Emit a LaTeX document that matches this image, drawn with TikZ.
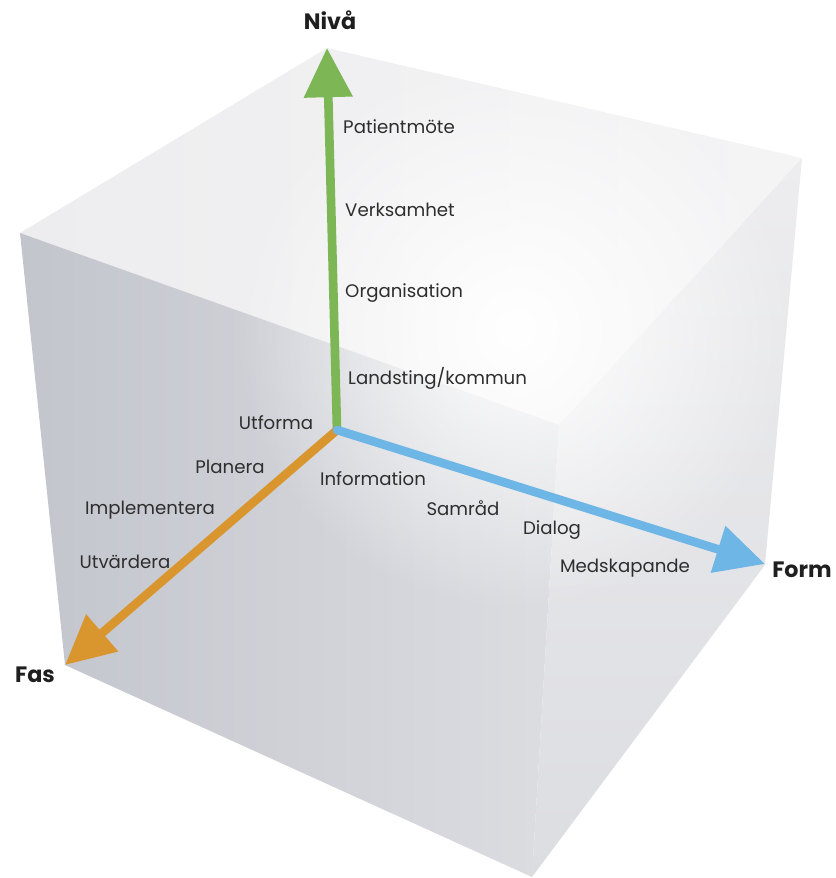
\documentclass[tikz,border=0pt]{standalone}
\usepackage{fontspec}
\setmainfont{Poppins}
\usetikzlibrary{arrows.meta, fadings}
\definecolor{nivagreen}{HTML}{7CB655}
\definecolor{formblue}{HTML}{6DB6E6}
\definecolor{fasorange}{HTML}{D9962E}
\definecolor{cubedark}{HTML}{C3C5CD}
\definecolor{cubemid}{HTML}{DCDDE1}
\definecolor{cubelight}{HTML}{EDEDEF}
\tikzfading[name=glow, inner color=transparent!0, outer color=transparent!100]
\tikzset{
  axis/.style={
    line width=7.4pt,
    line cap=round,
    -{Triangle[length=42pt, width=40pt]}
  },
  tick/.style={font=\fontsize{15.5}{18}\selectfont, text=black!82, inner sep=0pt},
  title/.style={font=\fontsize{19}{24}\selectfont\bfseries, text=black!88, inner sep=0pt}
}
\begin{document}
\begin{tikzpicture}[x=0.03cm, y=-0.03cm]
\useasboundingbox (0,0) rectangle (835,878);
% cube corners
\coordinate (T) at (327,48);
\coordinate (L) at (20,233);
\coordinate (R) at (802,158);
\coordinate (C) at (559,425);
\coordinate (BL) at (65,665);
\coordinate (BR) at (765,565);
\coordinate (B) at (532,877);

% faces
\shade[left color=cubelight, right color=cubelight!60!white] (T) -- (R) -- (C) -- (L) -- cycle;
\shade[left color=cubedark, right color=cubemid] (L) -- (C) -- (B) -- (BL) -- cycle;
\shade[top color=cubelight, bottom color=cubemid] (C) -- (R) -- (BR) -- (B) -- cycle;
\begin{scope}
  \clip (T) -- (R) -- (BR) -- (B) -- (BL) -- (L) -- cycle;
  \fill[white, path fading=glow] (515,330) circle (280);
\end{scope}

% axes
\newcommand\XOrig{337}
\newcommand\YOrig{430}
\coordinate (O) at (\XOrig,\YOrig);
\coordinate (tipN) at (327,48);
\coordinate (tipF) at (765,564);
\coordinate (tipS) at (65,665);

\draw[axis, nivagreen] (O) -- (tipN);
\draw[axis, fasorange] (O) -- (tipS);
\draw[axis, formblue] (O) -- (tipF);

\node[title] (niva) at (330,20) {Nivå};
\node[title, anchor=east] (form) at (832,570) {Form};
\node[title] (fas) at (35,675) {Fas};

% niva levels
\node[tick, anchor=west] (N1) at (343,127) {Patientmöte};
\node[tick, anchor=west] (N2) at (345,210) {Verksamhet};
\node[tick, anchor=west] (N3) at (345,293) {Organisation};
\node[tick, anchor=west] (N4) at (348,378) {Landsting/kommun};

% fas steps
\node[tick] (S1) at (276,423) {Utforma};
\node[tick] (S2) at (230,467) {Planera};
\node[tick] (S3) at (150,510) {Implementera};
\node[tick] (S4) at (125,562) {Utvärdera};

% form steps
\node[tick] (F1) at (373,479) {Information};
\node[tick] (F2) at (463,508) {Samråd};
\node[tick] (F3) at (552,530) {Dialog};
\node[tick] (F4) at (625,568) {Medskapande};
\end{tikzpicture}
\end{document}
